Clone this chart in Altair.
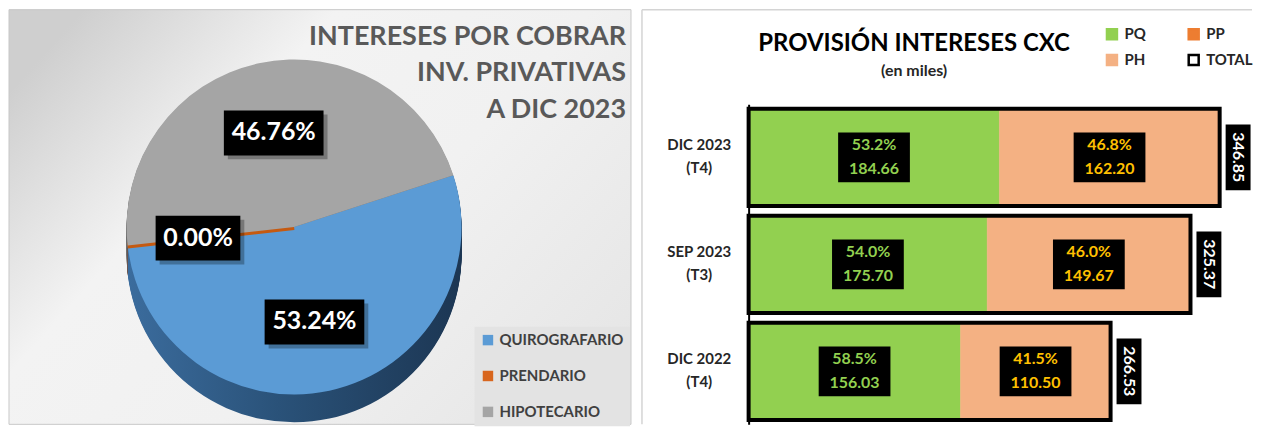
import math
import altair as alt
import pandas as pd

# ---------------- data ----------------
pie_categories = ["QUIROGRAFARIO", "PRENDARIO", "HIPOTECARIO"]
pie_values = [53.24, 0.00, 46.76]
pie_title = ["INTERESES POR COBRAR", "INV. PRIVATIVAS", "A DIC 2023"]

periods = ["DIC 2023|(T4)", "SEP 2023|(T3)", "DIC 2022|(T4)"]
pq_values = [184.66, 175.70, 156.03]
ph_values = [162.20, 149.67, 110.50]
total_values = [346.85, 325.37, 266.53]
series = ["PQ", "PH", "PP", "TOTAL"]   # column-major legend order
bar_title = "PROVISIÓN INTERESES CXC"
bar_subtitle = "(en miles)"

FONT = "Lato"

# ---------------- left panel (pie) ----------------
LW, LH = 624, 416
CX, CY, R = 286, 218, 168
DEPTH = 28
START = math.radians(72)
LABEL_R = 97

rows = []
cum = 0.0
for c, v in zip(pie_categories, pie_values):
    t0, t1 = cum, cum + v
    cum = t1
    a = START + (t0 + t1) / 2 / 100 * 2 * math.pi
    px = CX + LABEL_R * math.sin(a)
    py = CY - LABEL_R * math.cos(a)
    lab = f"{v:.2f}%"
    hw = (15 * len(lab) + 10) / 2
    rows.append(dict(cat=c, val=v, t0=t0, t1=t1, label=lab, px=px, py=py,
                     bx0=px - hw, bx1=px + hw, by0=py - 22, by1=py + 23))
pie_df = pd.DataFrame(rows)

theta_scale = alt.Scale(domain=[0, 100], range=[START, START + 2 * math.pi])
theta = alt.Theta("t0:Q", scale=theta_scale)
theta2 = alt.Theta2("t1:Q")

bg = alt.Chart(pd.DataFrame({"a": [0]})).mark_rect(
    fill=alt.LinearGradient(
        gradient="linear",
        stops=[alt.GradientStop(color="#cfcfcf", offset=0),
               alt.GradientStop(color="#f3f3f3", offset=0.3),
               alt.GradientStop(color="#f1f1f1", offset=0.6),
               alt.GradientStop(color="#e6e6e6", offset=1)],
        x1=0, y1=0.2, x2=1, y2=0.8),
    stroke="#c8c8c8", strokeWidth=1
).encode(x=alt.value(0), x2=alt.value(LW), y=alt.value(0), y2=alt.value(LH))

blue_side = alt.LinearGradient(
    gradient="linear",
    stops=[alt.GradientStop(color="#3b6c9d", offset=0),
           alt.GradientStop(color="#2a5279", offset=0.45),
           alt.GradientStop(color="#1c3653", offset=1)],
    x1=0, y1=0, x2=1, y2=0)
side_color_expr = ("datum.cat == 'PRENDARIO' ? '#8a3c0e' : '#707070'")

sides = []
for d in range(DEPTH, 0, -1):
    sides.append(
        alt.Chart(pie_df).transform_filter("datum.cat != 'QUIROGRAFARIO'")
        .transform_calculate(sidecol=side_color_expr)
        .mark_arc(radius=R, stroke="#8a3c0e").encode(
            theta=theta, theta2=theta2,
            fill=alt.Fill("sidecol:N", scale=None),
            strokeWidth=alt.condition("datum.val == 0", alt.value(6), alt.value(0)),
            x=alt.value(CX), y=alt.value(CY + d),
        )
    )
    sides.append(
        alt.Chart(pie_df).transform_filter("datum.cat == 'QUIROGRAFARIO'")
        .mark_arc(radius=R, fill=blue_side).encode(
            theta=theta, theta2=theta2,
            x=alt.value(CX), y=alt.value(CY + d),
        )
    )

top_scale = alt.Scale(domain=pie_categories, range=["#5b9bd5", "#d8661e", "#a5a5a5"])
top = alt.Chart(pie_df).mark_arc(radius=R, stroke="#c55a11").encode(
    theta=theta, theta2=theta2,
    color=alt.Color("cat:N", scale=top_scale, sort=pie_categories,
                    legend=alt.Legend(orient="none", legendX=467, legendY=318,
                                      title=None, fillColor="#e3e3e3", padding=6,
                                      labelFont=FONT, labelFontSize=15,
                                      labelFontWeight="bold", labelColor="#404040",
                                      symbolType="square", symbolSize=110,
                                      symbolStrokeWidth=0, rowPadding=20,
                                      labelOffset=4)),
    strokeWidth=alt.condition("datum.val == 0", alt.value(6), alt.value(0)),
    x=alt.value(CX), y=alt.value(CY),
)

shadow = alt.Chart(pie_df).mark_rect(color="#000000", opacity=0.28,
                                     xOffset=4, x2Offset=4, yOffset=4, y2Offset=4).encode(
    x=alt.X("bx0:Q", scale=None), x2="bx1:Q",
    y=alt.Y("by0:Q", scale=None), y2="by1:Q")
boxes = alt.Chart(pie_df).mark_rect(color="#000000").encode(
    x=alt.X("bx0:Q", scale=None), x2="bx1:Q",
    y=alt.Y("by0:Q", scale=None), y2="by1:Q")
pie_labels = alt.Chart(pie_df).mark_text(font=FONT, fontSize=25, fontWeight="bold",
                                         color="white", baseline="middle").encode(
    x=alt.X("px:Q", scale=None), y=alt.Y("py:Q", scale=None), text="label:N")

ptitle = alt.Chart(pd.DataFrame({"a": [0]})).mark_text(
    font=FONT, fontSize=27, fontWeight="bold", color="#595959", align="right",
    baseline="alphabetic", lineHeight=37
).encode(x=alt.value(619), y=alt.value(35), text=alt.value(pie_title))

left = alt.layer(bg, *sides, top, shadow, boxes, pie_labels, ptitle).properties(
    width=LW, height=LH)

# ---------------- right panel (bars) ----------------
brows = []
for p, q, h, t in zip(periods, pq_values, ph_values, total_values):
    brows.append(dict(period=p, serie="PQ", x0=0, x1=q, mid=q / 2,
                      label=f"{q / t * 100:.1f}%\n{q:.2f}"))
    brows.append(dict(period=p, serie="PH", x0=q, x1=q + h, mid=q + h / 2,
                      label=f"{h / t * 100:.1f}%\n{h:.2f}"))
bar_df = pd.DataFrame(brows)
tot_df = pd.DataFrame({"period": periods, "total": total_values,
                       "tlabel": [f"{v:.2f}" for v in total_values]})

yenc = alt.Y("period:N", sort=periods,
             scale=alt.Scale(domain=periods, range=[95, 416], paddingInner=0.09,
                             paddingOuter=0.04),
             axis=alt.Axis(title=None, labelExpr="split(datum.label, '|')",
                           labelFont=FONT, labelFontSize=15, labelFontWeight="bold",
                           labelColor="#262626", labelAlign="center",
                           labelBaseline="middle", labelPadding=50, labelOffset=-12,
                           labelLineHeight=23, ticks=False, domainColor="#000000",
                           domainWidth=2, grid=False))
xscale = alt.Scale(domain=[0, 367], nice=False, zero=True)

fill_range = ["#92d050", "#f4b183", "#ed7d31", "#ffffff"]
stroke_range = ["#92d050", "#f4b183", "#ed7d31", "#000000"]
leg = dict(orient="none", legendX=1099, legendY=17, title=None, columns=2,
           columnPadding=37, rowPadding=5, padding=0, labelFont=FONT,
           labelFontSize=15, labelFontWeight="bold", labelColor="#262626",
           symbolType="square", symbolSize=100, symbolStrokeWidth=2.5,
           labelOffset=5)

# thin panel frame (top and left edges)
frame_top = alt.Chart(pd.DataFrame({"a": [0]})).mark_rule(
    color="#d4d4d4", strokeWidth=1.5).encode(
    x=alt.value(-107), x2=alt.value(505), y=alt.value(0))
frame_left = alt.Chart(pd.DataFrame({"a": [0]})).mark_rule(
    color="#d4d4d4", strokeWidth=1.5).encode(
    x=alt.value(-107), y=alt.value(0), y2=alt.value(LH))

bars = alt.Chart(bar_df).mark_bar(strokeWidth=0.5).encode(
    x=alt.X("x0:Q", scale=xscale, axis=None), x2="x1:Q", y=yenc,
    fill=alt.Fill("serie:N", scale=alt.Scale(domain=series, range=fill_range),
                  legend=alt.Legend(**leg)),
    stroke=alt.Stroke("serie:N", scale=alt.Scale(domain=series, range=stroke_range),
                      legend=alt.Legend(**leg)),
)
outline = alt.Chart(tot_df).mark_bar(fillOpacity=0, stroke="#000000", strokeWidth=4).encode(
    x=alt.X("total:Q", scale=xscale, axis=None), y=yenc)

seg_boxes = alt.Chart(bar_df).mark_bar(color="#000000", height=50, xOffset=-36,
                                      x2Offset=36).encode(
    x=alt.X("mid:Q", scale=xscale, axis=None), x2="mid:Q", y=yenc)
seg_text = alt.Chart(bar_df).mark_text(font=FONT, fontSize=16, fontWeight="bold",
                                      lineBreak="\n", lineHeight=24, dy=-12,
                                      baseline="middle").encode(
    x=alt.X("mid:Q", scale=xscale, axis=None), y=yenc, text="label:N",
    color=alt.condition("datum.serie == 'PQ'", alt.value("#92d050"),
                        alt.value("#ffc000")))

tot_boxes = alt.Chart(tot_df).mark_bar(color="#000000", height=66, xOffset=6,
                                      x2Offset=31).encode(
    x=alt.X("total:Q", scale=xscale, axis=None), x2="total:Q", y=yenc)
tot_text = alt.Chart(tot_df).mark_text(font=FONT, fontSize=16, fontWeight="bold",
                                      color="white", angle=90, xOffset=18.5,
                                      baseline="middle").encode(
    x=alt.X("total:Q", scale=xscale, axis=None), y=yenc, text="tlabel:N")

btitle = alt.Chart(pd.DataFrame({"a": [0]})).mark_text(
    font=FONT, fontSize=24, fontWeight="bold", color="#000000", baseline="middle"
).encode(x=alt.value(166), y=alt.value(34), text=alt.value(bar_title))
bsub = alt.Chart(pd.DataFrame({"a": [0]})).mark_text(
    font=FONT, fontSize=16, fontWeight="bold", color="#262626", baseline="middle"
).encode(x=alt.value(166), y=alt.value(62), text=alt.value(bar_subtitle))

right = alt.layer(frame_top, frame_left, bars, outline, seg_boxes, seg_text,
                  tot_boxes, tot_text, btitle, bsub).properties(width=500, height=LH)

chart = alt.hconcat(left, right, spacing=9).properties(padding=0).configure(
    font=FONT).configure_view(stroke=None)

chart.save("out.html", embed_options={"renderer": "svg", "actions": False})
